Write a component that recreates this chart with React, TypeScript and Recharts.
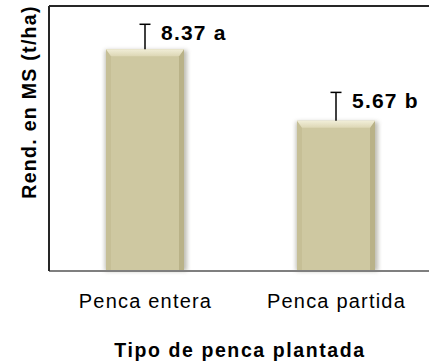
import { BarChart, Bar, XAxis, YAxis, ReferenceLine, LabelList, Label } from 'recharts'

const tipos = ['Penca entera', 'Penca partida']
const rendimiento = [8.37, 5.67]
const errorSup = [0.94, 1.07]
const letras = ['a', 'b']

const data = tipos.map((tipo, i) => ({
  tipo,
  rend: rendimiento[i],
  err: errorSup[i],
  letra: letras[i],
}))

const FONT = '"Liberation Sans", Arial, sans-serif'

function BevelBar(props: any) {
  const { x, y, width: w, height: h } = props
  if (!h || h <= 0) return null
  const b = 7
  const s = 5
  return (
    <g>
      <defs>
        <filter id="barGlow" x="-20%" y="-20%" width="140%" height="140%">
          <feGaussianBlur stdDeviation="2.2" />
        </filter>
        <linearGradient id="barTop" x1="0" y1="0" x2="0" y2="1">
          <stop offset="0%" stopColor="#f1eed8" />
          <stop offset="100%" stopColor="#ddd7b5" />
        </linearGradient>
      </defs>
      <rect x={x - 1} y={y + 1} width={w + 4} height={h - 1} fill="#7d7a66" opacity={0.5} filter="url(#barGlow)" />
      <rect x={x} y={y} width={w} height={h} fill="#cec8a1" />
      <polygon points={`${x},${y} ${x + s},${y + b} ${x + s},${y + h} ${x},${y + h}`} fill="#c6bf96" />
      <polygon points={`${x + w},${y} ${x + w - s},${y + b} ${x + w - s},${y + h} ${x + w},${y + h}`} fill="#b9b288" />
      <polygon points={`${x},${y} ${x + w},${y} ${x + w - s},${y + b} ${x + s},${y + b}`} fill="url(#barTop)" />
    </g>
  )
}

// error bar (upper only) plus mean and letter, scaled from the bar's own pixels
function ErrorLabel(props: any) {
  const { x, y, width, height, index } = props
  const d = data[index]
  const cx = x + width / 2
  const pxPerUnit = height / d.rend
  const top = y - d.err * pxPerUnit
  return (
    <g>
      <line x1={cx} y1={y} x2={cx} y2={top} stroke="#000" strokeWidth={1.5} />
      <line x1={cx - 5.5} y1={top} x2={cx + 5.5} y2={top} stroke="#000" strokeWidth={1.5} />
      <text
        x={cx + 16}
        y={top + 16}
        fontFamily={FONT}
        fontSize={21}
        fontWeight="bold"
        letterSpacing={1.2}
        fill="#000"
        style={{ whiteSpace: 'pre' }}
      >
        {`${d.rend.toFixed(2)} ${d.letra}`}
      </text>
    </g>
  )
}

function CategoryTick(props: any) {
  const { x, y, payload } = props
  return (
    <text x={x + 1} y={y + 37} textAnchor="middle" fontFamily={FONT} fontSize={20} letterSpacing={1.2} fill="#000">
      {payload.value}
    </text>
  )
}

export default function App() {
  return (
    <div style={{ position: 'absolute', left: 0, top: 0, width: 429, height: 364, overflow: 'hidden', background: '#fff' }}>
      <BarChart width={431} height={364} data={data} margin={{ top: 6, right: 0, bottom: 0, left: 48 }} barSize={78}>
        <XAxis
          dataKey="tipo"
          height={93}
          tickLine={false}
          tickSize={0}
          tickMargin={0}
          axisLine={{ stroke: '#7f7f7f', strokeWidth: 2 }}
          tick={<CategoryTick />}
          interval={0}
        >
          <Label
            content={(p: any) => {
              const vb = p.viewBox
              return (
                <text
                  x={vb.x + vb.width / 2}
                  y={357}
                  textAnchor="middle"
                  fontFamily={FONT}
                  fontSize={19.5}
                  fontWeight="bold"
                  letterSpacing={1.6}
                  fill="#000"
                >
                  Tipo de penca plantada
                </text>
              )
            }}
          />
        </XAxis>
        <YAxis
          domain={[0, 10]}
          width={1}
          tick={false}
          tickLine={false}
          axisLine={{ stroke: '#262626', strokeWidth: 2 }}
        >
          <Label
            content={() => (
              <text
                transform="translate(35.5, 102) rotate(-90)"
                textAnchor="middle"
                fontFamily={FONT}
                fontSize={19.5}
                fontWeight="bold"
                letterSpacing={1.3}
                fill="#000"
              >
                Rend. en MS (t/ha)
              </text>
            )}
          />
        </YAxis>
        <ReferenceLine y={10} stroke="#262626" strokeWidth={2} />
        <Bar dataKey="rend" shape={<BevelBar />} isAnimationActive={false}>
          <LabelList dataKey="rend" content={<ErrorLabel />} />
        </Bar>
      </BarChart>
    </div>
  )
}
